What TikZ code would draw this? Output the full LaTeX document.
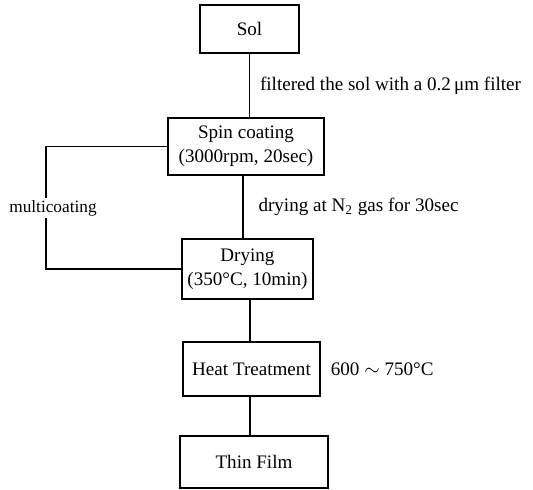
\documentclass[tikz,border=0pt]{standalone}
\usepackage{fontspec}
\setmainfont{Liberation Serif}
\usepackage{tikz}
\usetikzlibrary{positioning, calc}
\tikzset{
  stepbox/.style={rectangle, draw, align=center, inner sep=2pt, line width=0.6pt},
  lnk/.style={line width=0.6pt},
  note/.style={right, inner sep=0pt, font=\fontsize{10.5}{13}\selectfont},
}

\begin{document}
\begin{tikzpicture}[x=0.55pt, y=-0.55pt, font=\fontsize{10.5}{13}\selectfont]
  \useasboundingbox (0,0) rectangle (533,490);
  \node[stepbox, minimum width=99*0.55pt,  minimum height=48*0.55pt] (sol)  at (249.5,29)  {Sol};
  \node[stepbox, minimum width=156*0.55pt, minimum height=57*0.55pt] (spin) at (246,146.5) {Spin coating\\(3000rpm, 20sec)};
  \node[stepbox, minimum width=131*0.55pt, minimum height=60*0.55pt] (dry)  at (247.5,269) {Drying\\(350°C, 10min)};
  \node[stepbox, minimum width=137*0.55pt, minimum height=54*0.55pt] (heat) at (251.5,369) {Heat Treatment};
  \node[stepbox, minimum width=148*0.55pt, minimum height=52*0.55pt] (film) at (254,462)   {Thin Film};
  \coordinate (loop) at (46,208);
  \draw[lnk] (sol.south)  -- node[note, xshift=10*0.55pt]{filtered the sol with a 0.2\,μm filter} (sol.south |- spin.north);
  \draw[lnk] ([xshift=-3*0.55pt]spin.south) -- node[note, xshift=15*0.55pt]{drying at N\textsubscript{2} gas for 30sec} ([xshift=-3*0.55pt]spin.south |- dry.north);
  \draw[lnk] ([xshift=2.5*0.55pt]dry.south) -- ([xshift=2.5*0.55pt]dry.south |- heat.north);
  \draw[lnk] ([xshift=-1.5*0.55pt]heat.south) -- ([xshift=-1.5*0.55pt]heat.south |- film.north);
  \draw[lnk] (spin.west) -| (loop) |- (dry.west);
  \node[fill=white, inner sep=1pt, font=\fontsize{9.5}{11}\selectfont] (multi) at ([xshift=7*0.55pt]loop) {multicoating};
  \node[note, xshift=10*0.55pt] (temp) at (heat.east) {600 $\sim$ 750°C};
\end{tikzpicture}
\end{document}
